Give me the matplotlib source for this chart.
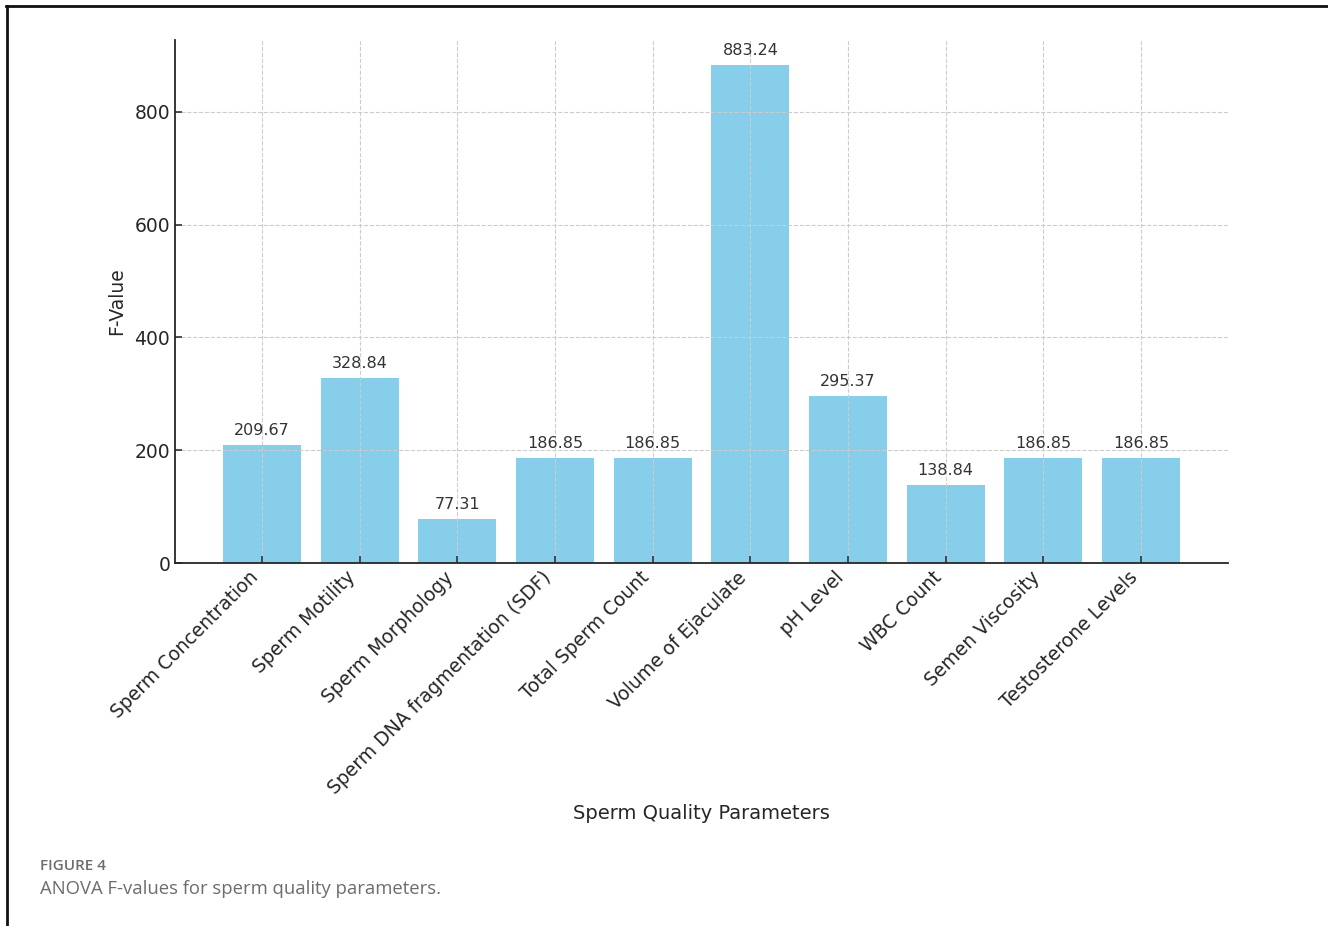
import matplotlib
matplotlib.use("Agg")
import matplotlib.pyplot as plt
from matplotlib.lines import Line2D

categories = ["Sperm Concentration", "Sperm Motility", "Sperm Morphology",
              "Sperm DNA fragmentation (SDF)", "Total Sperm Count",
              "Volume of Ejaculate", "pH Level", "WBC Count",
              "Semen Viscosity", "Testosterone Levels"]
f_values = [209.67, 328.84, 77.31, 186.85, 186.85, 883.24, 295.37, 138.84, 186.85, 186.85]
yticks = [0, 200, 400, 600, 800]

plt.rcParams['font.family'] = ['DejaVu Sans']
fig = plt.figure(figsize=(13.28, 9.26), dpi=100)
ax = fig.add_axes([0.1318, 0.392, 0.7929, 0.5648])

x = list(range(len(categories)))
bars = ax.bar(x, f_values, width=0.8, color='#87CEEB')
for xi, v in zip(x, f_values):
    ax.annotate(f"{v:.2f}", (xi, v), xytext=(0, 5), textcoords='offset points',
                ha='center', va='bottom', fontsize=11.5, color='#333333')

ax.set_xticks(x)
ax.set_xticklabels(categories, rotation=45, ha='right',
                   fontsize=13.5, color='#262626')
ax.set_yticks(yticks)
ax.tick_params(axis='y', labelsize=13.5, labelcolor='#262626')
ax.tick_params(direction='in', length=5, width=1.2, color='#333333')
ax.set_xlabel("Sperm Quality Parameters", fontsize=14, color='#262626', labelpad=4)
ax.set_ylabel("F-Value", fontsize=13.5, color='#262626', labelpad=6)
ax.grid(True, linestyle='--', color='#cccccc', linewidth=0.8)
for s in ['top', 'right']:
    ax.spines[s].set_visible(False)
for s in ['left', 'bottom']:
    ax.spines[s].set_color('#262626')
    ax.spines[s].set_linewidth(1.3)

# frame lines of the figure panel
fig.add_artist(Line2D([0.0045, 1.0], [0.9935, 0.9935], color='#111111', lw=2, transform=fig.transFigure))
fig.add_artist(Line2D([0.0050, 0.0050], [0.0, 0.9935], color='#111111', lw=2, transform=fig.transFigure))

fig.text(40/1328, 1 - 866/926, "FIGURE 4", fontsize=11, color='#6d6d6d',
         family='Open Sans', weight='semibold', va='center', ha='left')
fig.text(40/1328, 1 - 889/926, "ANOVA F-values for sperm quality parameters.", fontsize=13.3,
         color='#6d6d6d', family='Open Sans', va='center', ha='left')

fig.savefig("out.png", dpi=100)
